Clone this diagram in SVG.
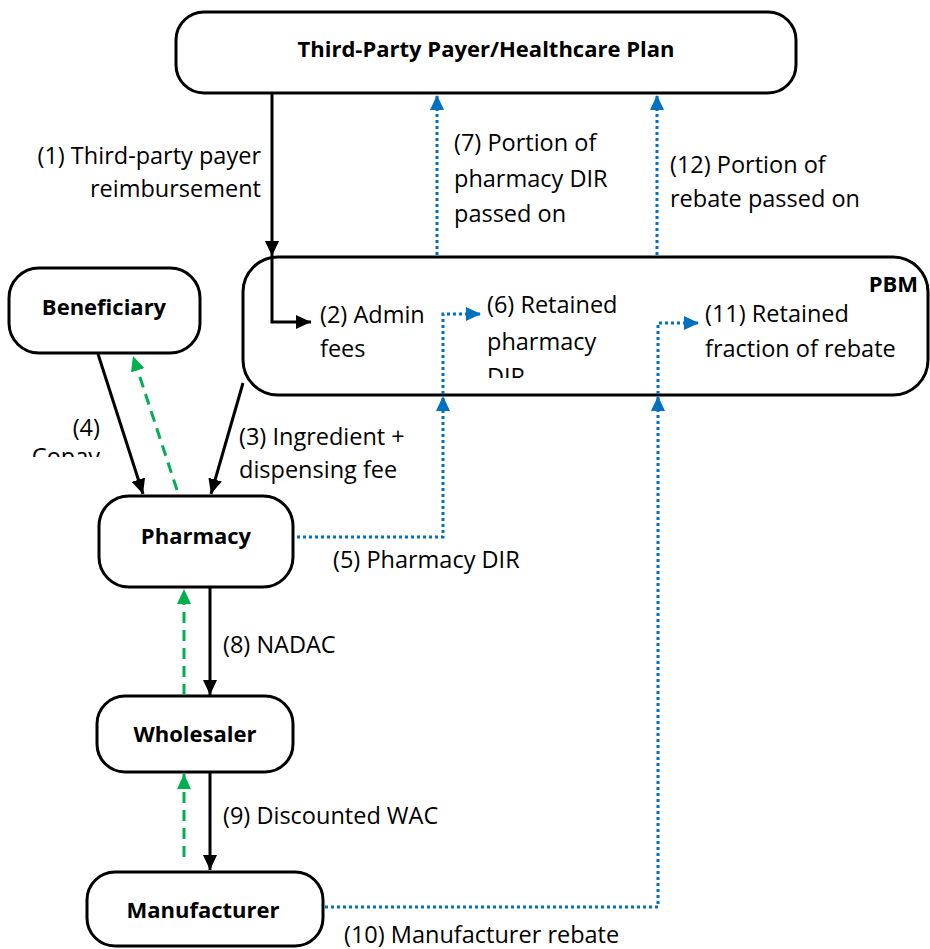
<svg xmlns="http://www.w3.org/2000/svg" width="930" height="949" viewBox="0 0 930 949">
<style>
.box{fill:#fff;stroke:#000;stroke-width:3}
.t{font-family:"Open Sans","Liberation Sans",sans-serif;font-size:23.5px;fill:#000}
.b{font-family:"Open Sans","Liberation Sans",sans-serif;font-size:22px;font-weight:bold;fill:#000}
.k{fill:none;stroke:#000;stroke-width:3}
.bl{fill:none;stroke:#0070C0;stroke-width:3;stroke-dasharray:3 3}
.gr{fill:none;stroke:#00B050;stroke-width:3;stroke-dasharray:11 7}
</style>
<defs>
<marker id="ak" markerUnits="userSpaceOnUse" markerWidth="16" markerHeight="14" refX="15" refY="7" orient="auto"><path d="M0,0 L15,7 L0,14 z" fill="#000"/></marker>
<marker id="ab" markerUnits="userSpaceOnUse" markerWidth="16" markerHeight="14" refX="15" refY="7" orient="auto"><path d="M0,0 L15,7 L0,14 z" fill="#0070C0"/></marker>
<marker id="ag" markerUnits="userSpaceOnUse" markerWidth="16" markerHeight="14" refX="15" refY="7" orient="auto"><path d="M0,0 L15,7 L0,14 z" fill="#00B050"/></marker>
<clipPath id="cpbm"><rect x="243" y="257" width="685" height="121"/></clipPath>
<clipPath id="c4"><rect x="0" y="400" width="120" height="57"/></clipPath>
</defs>

<g id="payer">
<rect class="box" x="176" y="12" width="620" height="81" rx="28"/>
<text class="b" x="486" y="57" text-anchor="middle">Third-Party Payer/Healthcare Plan</text>
</g>
<g id="pbm">
<rect class="box" x="243" y="257" width="685" height="138" rx="35"/>
<text class="b" x="918" y="292" text-anchor="end">PBM</text>
</g>
<g id="beneficiary">
<rect class="box" x="9" y="268" width="191" height="85" rx="30"/>
<text class="b" x="104" y="315" text-anchor="middle">Beneficiary</text>
</g>
<g id="pharmacy">
<rect class="box" x="99" y="496" width="194" height="91" rx="30"/>
<text class="b" x="196" y="544" text-anchor="middle">Pharmacy</text>
</g>
<g id="wholesaler">
<rect class="box" x="97" y="696" width="196" height="76" rx="28"/>
<text class="b" x="195" y="742" text-anchor="middle">Wholesaler</text>
</g>
<g id="manufacturer">
<rect class="box" x="87" y="872" width="236" height="74" rx="28"/>
<text class="b" x="203" y="918" text-anchor="middle">Manufacturer</text>
</g>

<g id="connectors">
<path class="k" d="M272,93 V256" marker-end="url(#ak)"/>
<path class="k" d="M272,257 V322 H311" marker-end="url(#ak)"/>
<path class="k" d="M98,354 L143,494" marker-end="url(#ak)"/>
<path class="k" d="M243,383 L211,494" marker-end="url(#ak)"/>
<path class="k" d="M210,587 V695" marker-end="url(#ak)"/>
<path class="k" d="M210,772 V870" marker-end="url(#ak)"/>
<path class="gr" d="M177,490 L133,356" marker-end="url(#ag)"/>
<path class="gr" d="M184,695 V589" marker-end="url(#ag)"/>
<path class="gr" d="M184,857 V774" marker-end="url(#ag)"/>
<path class="bl" d="M297,537 H443 V396" marker-end="url(#ab)"/>
<path class="bl" d="M443,394 V314 H481" marker-end="url(#ab)"/>
<path class="bl" d="M658,394 V323 H699" marker-end="url(#ab)"/>
<path class="bl" d="M325,907 H658 V396" marker-end="url(#ab)"/>
<path class="bl" d="M437,255 V95" marker-end="url(#ab)"/>
<path class="bl" d="M657,255 V95" marker-end="url(#ab)"/>
</g>

<g id="labels">
<text class="t" x="261" y="164" text-anchor="end">(1) Third-party payer</text>
<text class="t" x="261" y="197" text-anchor="end">reimbursement</text>
<text class="t" x="454" y="151">(7) Portion of</text>
<text class="t" x="454" y="187">pharmacy DIR</text>
<text class="t" x="454" y="222">passed on</text>
<text class="t" x="670" y="173">(12) Portion of</text>
<text class="t" x="670" y="207">rebate passed on</text>
<text class="t" x="320" y="323">(2) Admin</text>
<text class="t" x="320" y="357">fees</text>
<g clip-path="url(#cpbm)">
<text class="t" x="487" y="313">(6) Retained</text>
<text class="t" x="487" y="350">pharmacy</text>
<text class="t" x="487" y="385">DIR</text>
</g>
<text class="t" x="705" y="322">(11) Retained</text>
<text class="t" x="705" y="357">fraction of rebate</text>
<g clip-path="url(#c4)">
<text class="t" x="100" y="436" text-anchor="end">(4)</text>
<text class="t" x="100" y="465" text-anchor="end">Copay</text>
</g>
<text class="t" x="239" y="445">(3) Ingredient +</text>
<text class="t" x="239" y="478">dispensing fee</text>
<text class="t" x="333" y="568">(5) Pharmacy DIR</text>
<text class="t" x="223" y="653">(8) NADAC</text>
<text class="t" x="223" y="824">(9) Discounted WAC</text>
<text class="t" x="344" y="943">(10) Manufacturer rebate</text>
</g>
</svg>
